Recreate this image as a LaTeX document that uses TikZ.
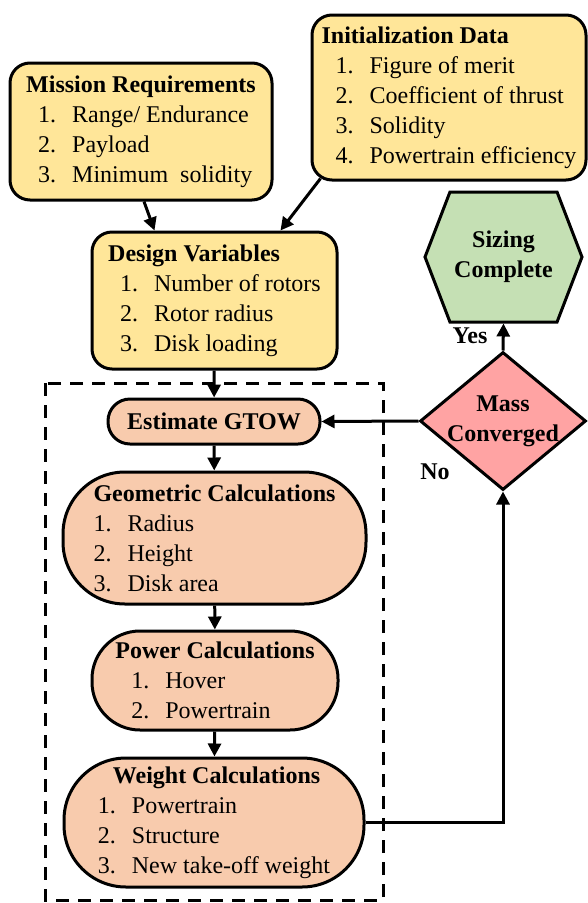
\documentclass[tikz,border=0pt]{standalone}
\usepackage{fontspec}
\setmainfont{Liberation Serif}
\usepackage{tikz}
\usetikzlibrary{positioning, arrows.meta, shapes.geometric, shapes.symbols}
\definecolor{amarillo}{RGB}{255, 230, 153}
\definecolor{salmon}{RGB}{248, 203, 173}
\definecolor{verde}{RGB}{197, 224, 180}
\definecolor{rosa}{RGB}{255, 163, 163}
\newcommand{\itm}[3][12pt]{\hspace*{#1}\makebox[34pt][l]{#2.}#3}
\tikzset{
    datos/.style={draw, rectangle, rounded corners=20pt, fill=amarillo, line width=3pt, align=left, inner sep=0pt},
    calc/.style={draw, rectangle, fill=salmon, line width=3pt, align=left, inner sep=0pt},
    fin/.style={draw, signal, signal to=east and west, signal pointer angle=138, fill=verde, line width=3pt, align=center, inner sep=0pt, minimum width=157pt, minimum height=130pt},
    deci/.style={draw, diamond, aspect=1.2, fill=rosa, line width=3pt, align=center, inner sep=-6pt, minimum width=166pt, minimum height=138pt},
    conn/.style={-{Triangle[length=13pt, width=13pt]}, line width=3pt},
    etiq/.style={font=\fontsize{24}{30}\selectfont\bfseries},
}

\begin{document}
\begin{tikzpicture}[
        x=1pt, y=-1pt,
        font=\fontsize{24}{30}\selectfont,
        ]
        \useasboundingbox (0,0) rectangle (587,903);

        \node[datos, minimum width=262pt, minimum height=137pt] (mis) at (141,131.5)
            {\textbf{Mission Requirements}\\ \itm{1}{Range/ Endurance}\\ \itm{2}{Payload}\\ \itm{3}{Minimum~~solidity}};
        \node[datos, minimum width=274pt, minimum height=165pt] (ini) at (449,97.5)
            {\textbf{Initialization Data}\\ \itm[14pt]{1}{Figure of merit}\\ \itm[14pt]{2}{Coefficient of thrust}\\ \itm[14pt]{3}{Solidity}\\ \itm[14pt]{4}{Powertrain efficiency}};
        \node[datos, minimum width=245pt, minimum height=137pt] (des) at (214.5,300.5)
            {\textbf{Design Variables}\\ \itm{1}{Number of rotors}\\ \itm{2}{Rotor radius}\\ \itm{3}{Disk loading}};

        \draw[line width=3pt, dash pattern=on 13pt off 9pt] (45,383) rectangle (383,900);

        \node[calc, rounded corners=22pt, minimum width=212pt, minimum height=45pt] (gtow) at (214,421.5)
            {\textbf{Estimate GTOW}};
        \node[calc, rounded corners=62pt, minimum width=303pt, minimum height=132pt] (geo) at (214.5,538)
            {\textbf{Geometric Calculations}\\ \itm[0pt]{1}{Radius}\\ \itm[0pt]{2}{Height}\\ \itm[0pt]{3}{Disk area}};
        \node[calc, rounded corners=48pt, minimum width=246pt, minimum height=99pt] (pot) at (215,680.5)
            {\textbf{Power Calculations}\\ \itm[16pt]{1}{Hover}\\ \itm[16pt]{2}{Powertrain}};
        \node[calc, rounded corners=62pt, minimum width=300pt, minimum height=129pt] (pes) at (214,822.5)
            {\hspace*{15pt}\textbf{Weight Calculations}\\ \itm[0pt]{1}{Powertrain}\\ \itm[0pt]{2}{Structure}\\ \itm[0pt]{3}{New take-off weight}};

        \node[deci] (mc) at (503,421) {\textbf{Mass}\\ \textbf{Converged}};
        \node[fin] (sc) at (503.5,257) {\textbf{Sizing}\\ \textbf{Complete}};
        \node[etiq] (si) at (470,336) {Yes};
        \node[etiq] (no) at (435,472) {No};

        \draw[conn] ([xshift=3pt]mis.south) -- ([xshift=-60pt]des.north);
        \draw[conn] ([xshift=10pt, yshift=3pt]ini.south west) -- ([xshift=66pt]des.north);
        \draw[conn] (des) -- (gtow);
        \draw[conn] (gtow) -- (geo);
        \draw[conn] (geo) -- (pot);
        \draw[conn] (pot) -- (pes);
        \draw[conn] (pes.east) -| (mc.south);
        \draw[conn] (mc.west) -- (gtow.east);
        \draw[conn] (mc.north) -- (sc.south);
    \end{tikzpicture}
\end{document}
